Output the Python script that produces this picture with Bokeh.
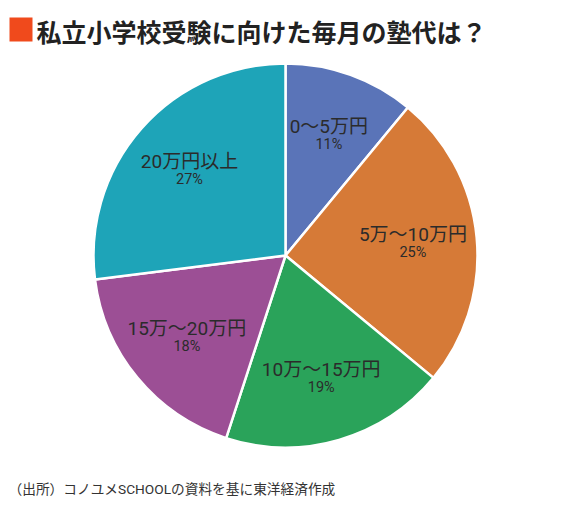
from math import pi, sin, cos
from bokeh.plotting import figure
from bokeh.models import Range1d
from bokeh.core.properties import value
from bokeh.embed import file_html
from bokeh.resources import INLINE

# データ（時計回り、真上から）
categories = ["0〜5万円", "5万〜10万円", "10万〜15万円", "15万〜20万円", "20万円以上"]
percents = [11, 25, 19, 18, 27]
colors = ["#5a74b8", "#d67a37", "#2aa35a", "#9c4f95", "#1ea4b8"]

title = "私立小学校受験に向けた毎月の塾代は？"
source_note = "（出所）コノユメSCHOOLの資料を基に東洋経済作成"

W, H = 570, 509
FONT = "Noto Sans CJK JP"
FONT_LABEL = "Roboto, 'Noto Sans CJK JP'"

p = figure(width=W, height=H, output_backend="svg", toolbar_location=None,
           x_range=Range1d(0, W), y_range=Range1d(0, H), min_border=0)
p.axis.visible = False
p.grid.visible = False
p.outline_line_color = None
p.background_fill_color = "white"

# 画像座標 (285, 255) が中心
cx, cy, R = 285, H - 255, 192
r_label = 128

total = sum(percents)
cum = 0
starts, ends, lx, ly = [], [], [], []
for v in percents:
    a0 = pi / 2 - 2 * pi * cum / total
    a1 = pi / 2 - 2 * pi * (cum + v) / total
    mid = (a0 + a1) / 2
    starts.append(a0)
    ends.append(a1)
    lx.append(cx + r_label * cos(mid))
    ly.append(cy + r_label * sin(mid))
    cum += v

p.wedge(x=cx, y=cy, radius=R, start_angle=starts, end_angle=ends,
        direction="clock", fill_color=colors, line_color="white", line_width=2.5)

p.text(x=lx, y=[y + 9 for y in ly], text=categories, text_align="center",
       text_baseline="middle", text_font=value(FONT_LABEL), text_font_size="19px",
       text_color="#2b2b2b")
p.text(x=lx, y=[y - 9 for y in ly], text=[f"{v}%" for v in percents],
       text_align="center", text_baseline="middle", text_font=value(FONT_LABEL),
       text_font_size="14.5px", text_color="#2b2b2b")

# タイトル
p.rect(x=[20.5], y=[H - 29], width=23, height=24, fill_color="#f04a1c", line_color=None)
p.text(x=[36], y=[H - 30], text=[title], text_baseline="middle",
       text_font=value(FONT), text_font_size="25px", text_font_style="bold",
       text_color="#222222")

# 出所
p.text(x=[8], y=[H - 488], text=[source_note], text_baseline="middle",
       text_font=value(FONT_LABEL), text_font_size="13.7px", text_color="#333333")

open("out.html", "w").write(file_html(p, INLINE))
